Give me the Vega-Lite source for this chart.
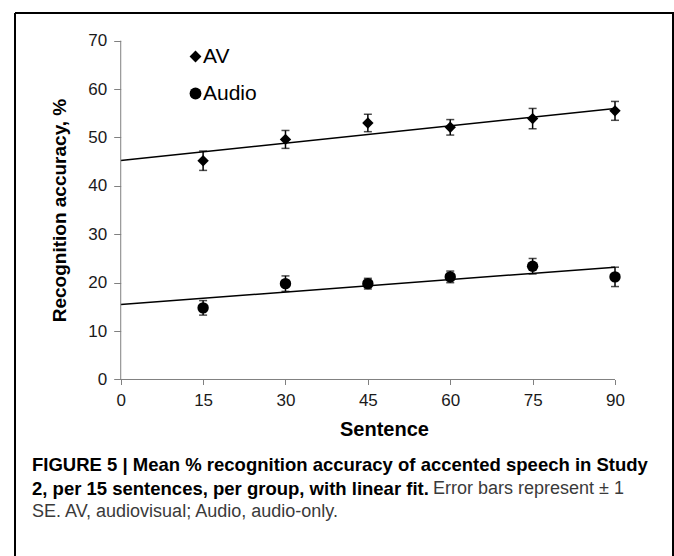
{
  "$schema": "https://vega.github.io/schema/vega-lite/v6.json",
  "width": 658,
  "height": 543,
  "autosize": {"type": "none"},
  "padding": {"left": 15, "top": 13, "right": 1, "bottom": 0},
  "background": "white",
  "config": {
    "view": {"stroke": "black", "strokeWidth": 2, "strokeDash": [1201, 658, 543, 0], "fill": "white"},
    "font": "Liberation Sans"
  },
  "datasets": {
    "points": [
      {"group": "AV", "x": 15, "mean": 45.2, "se": 2.0},
      {"group": "AV", "x": 30, "mean": 49.6, "se": 1.85},
      {"group": "AV", "x": 45, "mean": 53.0, "se": 1.8},
      {"group": "AV", "x": 60, "mean": 52.1, "se": 1.6},
      {"group": "AV", "x": 75, "mean": 53.9, "se": 2.1},
      {"group": "AV", "x": 90, "mean": 55.5, "se": 1.95},
      {"group": "Audio", "x": 15, "mean": 14.8, "se": 1.5},
      {"group": "Audio", "x": 30, "mean": 19.8, "se": 1.6},
      {"group": "Audio", "x": 45, "mean": 19.8, "se": 1.1},
      {"group": "Audio", "x": 60, "mean": 21.2, "se": 1.2},
      {"group": "Audio", "x": 75, "mean": 23.4, "se": 1.6},
      {"group": "Audio", "x": 90, "mean": 21.2, "se": 2.0}
    ],
    "fit": [
      {"group": "AV", "x": 0, "y": 45.25},
      {"group": "AV", "x": 90, "y": 56.0},
      {"group": "Audio", "x": 0, "y": 15.5},
      {"group": "Audio", "x": 90, "y": 23.2}
    ],
    "one": [{}]
  },
  "layer": [
    {
      "data": {"name": "fit"},
      "mark": {"type": "line", "color": "black", "strokeWidth": 1.5},
      "encoding": {
        "x": {
          "field": "x", "type": "quantitative", "title": "Sentence",
          "scale": {"domain": [-19.25, 100.56], "nice": false, "zero": false},
          "axis": {
            "values": [0, 15, 30, 45, 60, 75, 90],
            "offset": -176.5,
            "domain": false, "grid": false,
            "tickColor": "#808080", "tickSize": 5, "tickWidth": 1,
            "labelFontSize": 17, "labelColor": "#1a1a1a", "labelPadding": 8,
            "titleFontSize": 20, "titleFontWeight": "bold",
            "titleColor": "black", "titlePadding": 11, "titleX": 369
          }
        },
        "y": {
          "field": "y", "type": "quantitative", "title": "Recognition accuracy, %",
          "scale": {"domain": [-36.47, 75.72], "nice": false, "zero": false},
          "axis": {
            "values": [0, 10, 20, 30, 40, 50, 60, 70],
            "offset": -105.7,
            "domain": false, "grid": false,
            "tickColor": "#808080", "tickSize": 7, "tickWidth": 1,
            "labelFontSize": 17, "labelColor": "#1a1a1a", "labelPadding": 7,
            "titleFontSize": 19, "titleFontWeight": "bold",
            "titleColor": "black", "titlePadding": 18, "titleY": 197
          }
        },
        "detail": {"field": "group"}
      }
    },
    {
      "data": {"name": "one"},
      "mark": {"type": "rule", "color": "#808080", "strokeWidth": 1},
      "encoding": {
        "x": {"datum": 0, "type": "quantitative", "title": "Sentence"},
        "y": {"datum": 0, "type": "quantitative", "title": "Recognition accuracy, %"},
        "y2": {"datum": 70}
      }
    },
    {
      "data": {"name": "one"},
      "mark": {"type": "rule", "color": "#808080", "strokeWidth": 1},
      "encoding": {
        "x": {"datum": 0, "type": "quantitative", "title": "Sentence"},
        "x2": {"datum": 90},
        "y": {"datum": 0, "type": "quantitative", "title": "Recognition accuracy, %"}
      }
    },
    {
      "data": {"name": "points"},
      "mark": {
        "type": "errorbar",
        "ticks": {"size": 8, "color": "black", "thickness": 1.5},
        "rule": {"color": "black", "strokeWidth": 1.5}
      },
      "encoding": {
        "x": {"field": "x", "type": "quantitative", "title": "Sentence"},
        "y": {"field": "mean", "type": "quantitative", "title": "Recognition accuracy, %"},
        "yError": {"field": "se"},
        "detail": {"field": "group"}
      }
    },
    {
      "data": {"name": "points"},
      "mark": {"type": "point", "filled": true, "opacity": 1, "color": "black", "size": 130},
      "encoding": {
        "x": {"field": "x", "type": "quantitative", "title": "Sentence"},
        "y": {"field": "mean", "type": "quantitative", "title": "Recognition accuracy, %"},
        "shape": {
          "field": "group", "type": "nominal",
          "scale": {"domain": ["AV", "Audio"], "range": ["diamond", "circle"]},
          "legend": {
            "title": null, "orient": "none", "legendX": 170, "legendY": 33,
            "labelFontSize": 21, "labelColor": "black", "labelOffset": -3,
            "rowPadding": 15, "padding": 0, "symbolSize": 140,
            "symbolFillColor": "black", "symbolStrokeColor": "black", "symbolStrokeWidth": 0,
            "labelLimit": 300
          }
        }
      }
    },
    {
      "data": {"name": "one"},
      "mark": {"type": "text", "align": "left", "baseline": "middle", "fontSize": 18.5, "fontWeight": "bold", "color": "black",
               "text": "FIGURE 5 | Mean % recognition accuracy of accented speech in Study"},
      "encoding": {
        "x": {"datum": -16.15, "type": "quantitative"},
        "y": {"datum": -17.67, "type": "quantitative"}
      }
    },
    {
      "data": {"name": "one"},
      "mark": {"type": "text", "align": "left", "baseline": "middle", "fontSize": 18.5, "fontWeight": "bold", "color": "black",
               "text": "2, per 15 sentences, per group, with linear fit."},
      "encoding": {
        "x": {"datum": -16.15, "type": "quantitative"},
        "y": {"datum": -22.62, "type": "quantitative"}
      }
    },
    {
      "data": {"name": "one"},
      "mark": {"type": "text", "align": "left", "baseline": "middle", "fontSize": 18, "fontWeight": "normal", "color": "#3a3a3a",
               "text": "Error bars represent ± 1"},
      "encoding": {
        "x": {"datum": 56.86, "type": "quantitative"},
        "y": {"datum": -22.62, "type": "quantitative"}
      }
    },
    {
      "data": {"name": "one"},
      "mark": {"type": "text", "align": "left", "baseline": "middle", "fontSize": 18, "fontWeight": "normal", "color": "#3a3a3a",
               "text": "SE. AV, audiovisual; Audio, audio-only."},
      "encoding": {
        "x": {"datum": -16.15, "type": "quantitative"},
        "y": {"datum": -27.38, "type": "quantitative"}
      }
    }
  ]
}
